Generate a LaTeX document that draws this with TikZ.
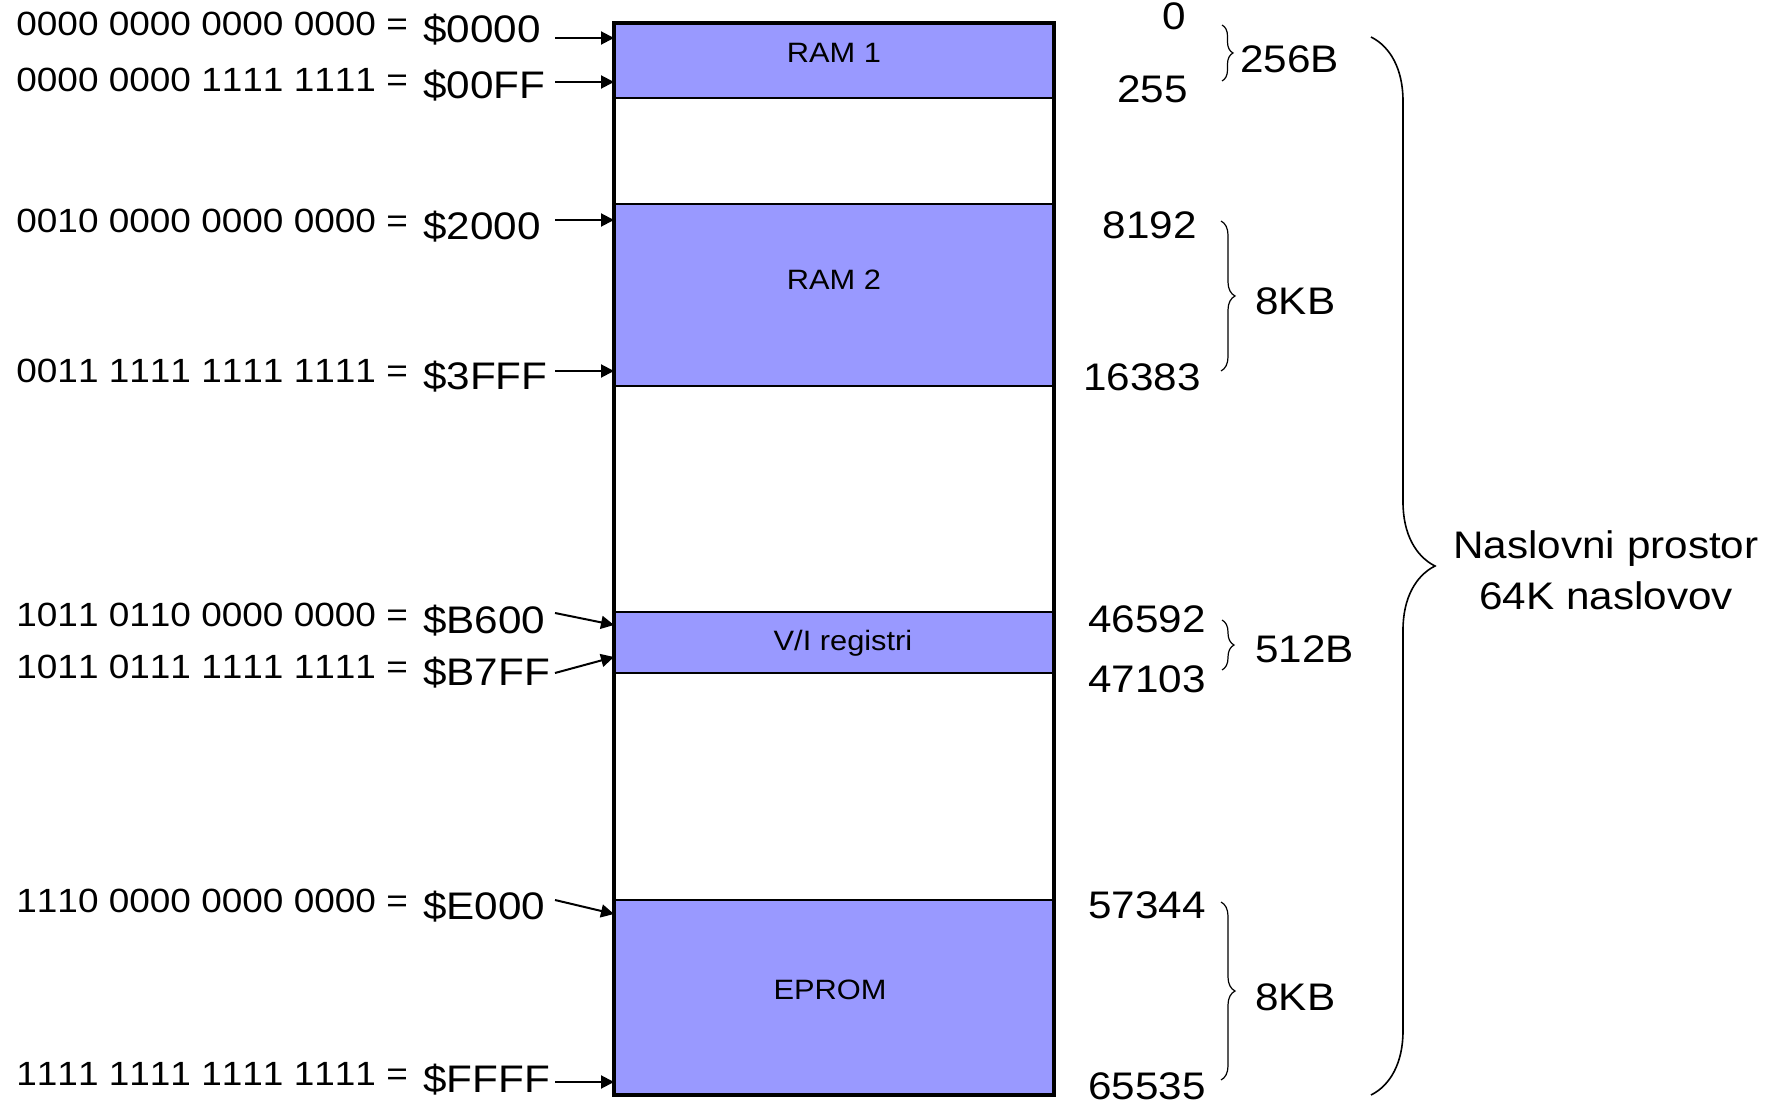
\documentclass[tikz,border=0pt]{standalone}
\usepackage{fontspec}
\setmainfont[Kerning=Off, FakeStretch=1.1]{Liberation Sans}
\usetikzlibrary{arrows.meta, positioning, decorations.pathreplacing}
\definecolor{memblue}{RGB}{153,153,255}
\tikzset{%
   % filled memory block
   blk/.style={
      draw=black,
      line width=1pt,
      fill=memblue
   },
   blkname/.style={
      inner sep=0pt,
      font=\fontsize{14}{17}\selectfont
   },
   % binary address on the left, hex part set larger and lower
   addr/.style={
      anchor=base west,
      inner sep=0pt,
      font=\fontsize{16.8}{20}\selectfont
   },
   dec/.style={
      anchor=east,
      inner sep=0pt,
      font=\fontsize{19.2}{23}\selectfont
   },
   size/.style={
      anchor=west,
      inner sep=0pt,
      font=\fontsize{19.2}{23}\selectfont
   },
   ptr/.style={
      -{Triangle[length=6.5pt, width=6.5pt]},
      line width=1pt
   },
   brc/.style={
      decorate,
      decoration={brace, amplitude=#1},
      line width=0.6pt
   },
}
\newcommand\hexpart[1]{\hspace{2.5pt}\raisebox{-3.5pt}{\fontsize{19.2}{23}\selectfont\$#1}}

\begin{document}
\begin{tikzpicture}[x=0.5pt, y=-0.5pt]
\useasboundingbox (0,0) rectangle (1774,1107);
% blocks
\draw[blk] (614,23) rectangle (1054,98);
\draw[blk] (614,204) rectangle (1054,386);
\draw[blk] (614,612) rectangle (1054,673);
\draw[blk] (614,900) rectangle (1054,1095);
\draw[line width=1.6pt] (614,23) rectangle (1054,1095);
\node[blkname] (ram1) at (834,53) {RAM 1};
\node[blkname] (ram2) at (834,280) {RAM 2};
\node[blkname] (vi) at (843,643) {V/I registri};
\node[blkname] (eprom) at (830,990) {EPROM};
% addresses and pointers
\foreach \nm/\y/\bits/\hx/\sy/\ty in {
   a/36/0000 0000 0000 0000/0000/38/38,
   b/92/0000 0000 1111 1111/00FF/82/82,
   c/233/0010 0000 0000 0000/2000/220/220,
   d/383/0011 1111 1111 1111/3FFF/371/371,
   e/626/1011 0110 0000 0000/B600/613/625,
   f/678/1011 0111 1111 1111/B7FF/673/657,
   g/912/1110 0000 0000 0000/E000/900/914,
   h/1085/1111 1111 1111 1111/FFFF/1082/1082}{
   \node[addr] (l\nm) at (16,\y) {\bits{} = \hexpart{\hx}};
   \coordinate (s\nm) at (555,\sy);
   \coordinate (p\nm) at (614,\ty);
   \draw[ptr] (s\nm) -- (p\nm);
}
% decimal addresses
\foreach \x/\y/\n in {1186/16/0, 1188/89/255, 1197/225/8192, 1201/377/16383,
   1206/619/46592, 1206/679/47103, 1206/905/57344, 1206/1086/65535}
   \node[dec] (n\n) at (\x,\y) {\n};
% sizes
\draw[brc=5.5pt] (1222,25) -- (1222,81);
\node[size] (s1) at (1240,59) {256B};
\draw[brc=7pt] (1221,221) -- (1221,371);
\node[size] (s2) at (1255,301) {8KB};
\draw[brc=6pt] (1222,620) -- (1222,670);
\node[size] (s3) at (1255,649) {512B};
\draw[brc=7pt] (1221,902) -- (1221,1080);
\node[size] (s4) at (1255,997) {8KB};
\draw[brc=32pt, line width=0.8pt] (1371,37) -- (1371,1095);
\node[align=center, inner sep=0pt, font=\fontsize{19.2}{25.5}\selectfont]
   (space) at (1606,570) {Naslovni prostor\\64K naslovov};
\end{tikzpicture}
\end{document}
